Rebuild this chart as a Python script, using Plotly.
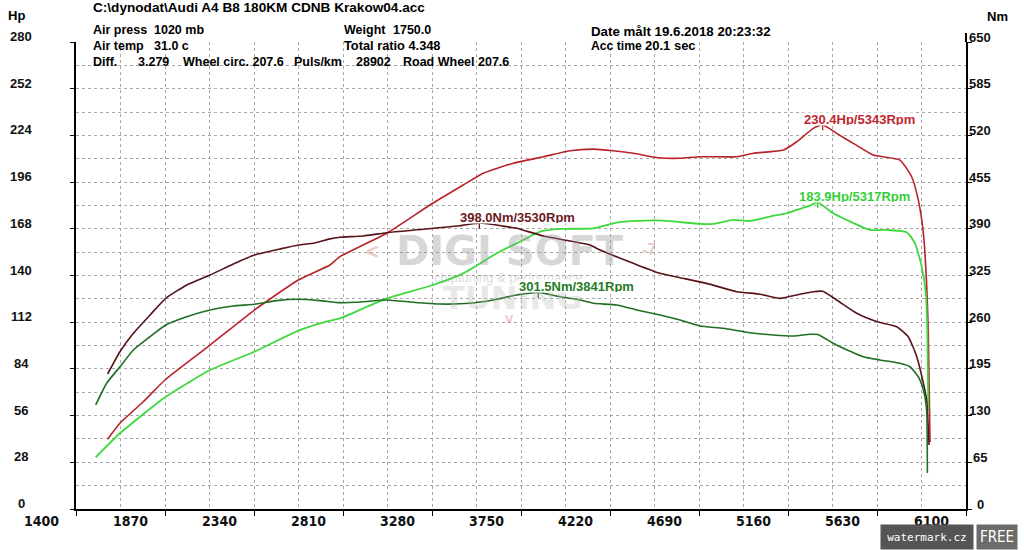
import plotly.graph_objects as go

# ---------------- data ----------------
hp_rpm = [1567, 1632, 1755, 1874, 2108, 2342, 2574, 2741, 2794, 3041, 3269, 3445, 3551, 3709, 3868,
          4009, 4132, 4237, 4343, 4475, 4590, 4695, 4889, 4977, 5136, 5206, 5294, 5343, 5417, 5505,
          5610, 5751, 5813, 5848, 5875, 5892, 5901, 5910]
hp_crank = [41.8, 51.4, 64.3, 77.8, 98.3, 119.3, 137.3, 146.3, 151.3, 165.3, 182.3, 194.3, 201.3, 207.3, 211.2,
            214.8, 215.8, 214.8, 213.3, 210.6, 210.3, 211.2, 211.2, 213.3, 215.2, 220.2, 228.2, 230.4, 225.2, 219.2,
            212.2, 209.2, 199.2, 185.3, 165.3, 135.3, 105.5, 40.0]

whp_rpm = [1504, 1632, 1874, 2108, 2342, 2574, 2741, 2794, 3041, 3269, 3445, 3622, 3762, 3850, 3956,
           4132, 4255, 4361, 4501, 4695, 4765, 4871, 4959, 5065, 5170, 5232, 5276, 5317, 5399, 5470,
           5593, 5681, 5787, 5831, 5866, 5888, 5896, 5901]
hp_wheel = [31.0, 45.4, 67.3, 83.3, 94.3, 106.9, 112.9, 114.3, 126.3, 133.7, 141.3, 153.3, 161.3, 166.3, 167.9,
            168.3, 171.7, 172.7, 172.9, 170.9, 170.9, 173.3, 172.7, 175.3, 177.9, 180.3, 181.9, 183.9, 177.3, 173.3,
            167.3, 167.3, 165.9, 159.3, 145.3, 129.3, 105.3, 59.0]

nm_rpm = [1567, 1632, 1703, 1791, 1874, 1985, 2108, 2231, 2342, 2477, 2574, 2653, 2741, 2794, 2917, 3041,
          3234, 3428, 3530, 3674, 3727, 3868, 4009, 4114, 4167, 4343, 4484, 4590, 4731, 4889, 5012, 5118,
          5206, 5294, 5343, 5417, 5523, 5628, 5734, 5795, 5840, 5875, 5892, 5905]
nm_crank = [187.9, 218.9, 244.5, 270.0, 293.2, 311.8, 325.7, 341.0, 353.5, 361.9, 367.5, 369.8, 376.0, 378.2, 380.0, 384.6,
            389.3, 394.3, 398.0, 393.0, 390.7, 380.0, 373.0, 367.5, 360.5, 342.0, 328.0, 322.0, 314.0, 302.5, 299.0, 293.2,
            297.9, 302.5, 303.0, 290.9, 272.4, 260.9, 253.7, 239.8, 212.0, 175.0, 151.7, 89.0]

wnm_rpm = [1504, 1562, 1632, 1703, 1791, 1874, 1985, 2108, 2231, 2342, 2460, 2574, 2689, 2794, 2882, 3041,
           3181, 3322, 3481, 3604, 3727, 3841, 3956, 4062, 4132, 4255, 4361, 4484, 4590, 4695, 4818, 4959,
           5083, 5188, 5276, 5317, 5399, 5435, 5558, 5646, 5751, 5804, 5848, 5875, 5892, 5896]
nm_wheel = [144.8, 175.0, 198.0, 221.3, 239.8, 256.1, 267.7, 277.0, 282.5, 284.9, 290.0, 291.9, 290.0, 287.2, 287.7, 290.9,
            287.7, 285.3, 286.3, 290.9, 297.9, 301.5, 295.5, 290.9, 286.3, 284.0, 277.0, 270.0, 263.0, 254.7, 251.5, 245.4,
            242.2, 240.8, 243.2, 242.9, 230.6, 225.9, 212.0, 207.4, 202.8, 198.0, 184.1, 165.6, 137.8, 50.0]

x_ticks = [1400, 1870, 2340, 2810, 3280, 3750, 4220, 4690, 5160, 5630, 6100]
hp_ticks = [0, 28, 56, 84, 112, 140, 168, 196, 224, 252, 280]
nm_ticks = [0, 65, 130, 195, 260, 325, 390, 455, 520, 585, 650]

# ---------------- style ----------------
C_RED, C_GREEN, C_MAROON, C_DGREEN = "#b8232b", "#3fd93f", "#571319", "#1f6e22"
FONT = "Liberation Sans, Arial, sans-serif"
NARROW = "Liberation Sans Narrow, DejaVu Sans Condensed, Liberation Sans, sans-serif"
GRID = "#a8a8a8"

L, R, T, B = 76, 58, 42, 41
W, H = 1024, 550
PW, PH = W - L - R, H - T - B


def px(X):
    return (X - L) / PW


def py(Y):
    return (H - B - Y) / PH


fig = go.Figure()
LINE = dict(shape="spline", smoothing=0.5)
fig.add_trace(go.Scatter(x=hp_rpm, y=hp_crank, mode="lines", line=dict(color=C_RED, width=1.6, **LINE), yaxis="y"))
fig.add_trace(go.Scatter(x=whp_rpm, y=hp_wheel, mode="lines", line=dict(color=C_GREEN, width=1.8, **LINE), yaxis="y"))
fig.add_trace(go.Scatter(x=nm_rpm, y=nm_crank, mode="lines", line=dict(color=C_MAROON, width=1.6, **LINE), yaxis="y2"))
fig.add_trace(go.Scatter(x=wnm_rpm, y=nm_wheel, mode="lines", line=dict(color=C_DGREEN, width=1.6, **LINE), yaxis="y2"))

minor_x = [(a + b) / 2 for a, b in zip(x_ticks[:-1], x_ticks[1:])]

fig.update_layout(
    width=W, height=H, margin=dict(l=L, r=R, t=T, b=B),
    plot_bgcolor="white", paper_bgcolor="white", showlegend=False,
    xaxis=dict(range=[x_ticks[0], x_ticks[-1]], tickmode="array", tickvals=x_ticks,
               showticklabels=False,
               ticks="outside", ticklen=5, tickwidth=1, tickcolor="black",
               showline=True, linecolor="black", linewidth=2,
               showgrid=True, gridcolor=GRID, griddash="3px,3px", gridwidth=1,
               minor=dict(tickmode="array", tickvals=minor_x, showgrid=True, gridcolor=GRID,
                          griddash="3px,3px", gridwidth=1, ticks=""),
               zeroline=False),
    yaxis=dict(range=[hp_ticks[0], hp_ticks[-1]], tickmode="array", tickvals=hp_ticks,
               showticklabels=False, ticks="outside", ticklen=4, tickcolor="black",
               showline=True, linecolor="black", linewidth=2,
               showgrid=True, gridcolor=GRID, griddash="3px,3px", gridwidth=1,
               minor=dict(dtick=(hp_ticks[1] - hp_ticks[0]) / 2, tick0=0, showgrid=True, gridcolor=GRID,
                          griddash="3px,3px", gridwidth=1, ticks=""),
               zeroline=False),
    yaxis2=dict(range=[nm_ticks[0], nm_ticks[-1]], overlaying="y", side="right",
                tickmode="array", tickvals=nm_ticks, showticklabels=False,
                ticks="outside", ticklen=4, tickcolor="black",
                showline=True, linecolor="black", linewidth=2, showgrid=False, zeroline=False),
)

# white header band hiding grid at the top of the plot
fig.add_shape(type="rect", xref="paper", yref="paper", x0=0.003, x1=1, y0=py(63), y1=1.0,
              fillcolor="white", line_width=0, layer="between")
fig.add_shape(type="rect", xref="paper", yref="paper", x0=px(91), x1=px(510), y0=py(69), y1=py(56),
              fillcolor="white", line_width=0, layer="between")
# right axis extends a little above the plot
fig.add_shape(type="line", xref="paper", yref="paper", x0=1, x1=1, y0=1, y1=py(33),
              line=dict(color="black", width=2))

ann = []


def text(X, Y, s, size=12.5, color="black", family=FONT, anchor="left", bold=True, **kw):
    ann.append(dict(xref="paper", yref="paper", x=px(X), y=py(Y), text=(f"<b>{s}</b>" if bold else s),
                    showarrow=False, xanchor=anchor, yanchor="middle",
                    font=dict(family=family, size=size, color=color), **kw))


# header
text(91, 7, "C:\\dynodat\\Audi A4 B8 180KM CDNB Krakow04.acc", size=13.6)
text(91, 30, "Air press")
text(152, 30, "1020 mb")
text(91, 46, "Air temp")
text(152, 46, "31.0 c")
text(91, 62, "Diff.")
text(136, 62, "3.279")
text(181, 62, "Wheel circ. 207.6")
text(292, 62, "Puls/km")
text(354, 62, "28902")
text(401, 62, "Road Wheel 207.6")
text(342, 30, "Weight")
text(391, 30, "1750.0")
text(342, 46, "Total ratio 4.348", size=12.8)
text(589, 31, "Date målt 19.6.2018 20:23:32", size=13.3)
text(589, 46, "Acc time", size=12.2)
text(643, 46, "20.1 sec", size=13)
text(17, 15, "Hp", size=13, anchor="center")
text(997, 16, "Nm", size=13, anchor="center")

# axis value labels
for v in hp_ticks:
    ann.append(dict(xref="paper", yref="y", x=0, xshift=-55, y=v, yshift=5.5, text=f"<b>{v}</b>",
                    showarrow=False, xanchor="center", yanchor="middle",
                    font=dict(family=FONT, size=13, color="#111")))
for v in nm_ticks:
    ann.append(dict(xref="paper", yref="y2", x=1, xshift=14, y=v, yshift=5, text=f"<b>{v}</b>",
                    showarrow=False, xanchor="center", yanchor="middle",
                    font=dict(family=FONT, size=13, color="#111")))
for v in x_ticks:
    ann.append(dict(xref="x", yref="paper", x=v, xshift=-35, y=0, yshift=-12, text=f"<b>{v}</b>",
                    showarrow=False, xanchor="center", yanchor="middle",
                    font=dict(family=NARROW, size=14, color="#111")))

# watermark logo (faint)
text(510, 251, "DIGI SOFT", size=40, color="rgba(150,150,150,0.40)", family="DejaVu Sans, sans-serif",
     anchor="center")
text(508, 277, "chiptuning &amp; performance", size=13, color="rgba(160,160,160,0.40)", anchor="center", bold=False)
text(513, 298, "TUNING", size=32, color="rgba(190,190,190,0.35)", family="DejaVu Sans, sans-serif", anchor="center")
text(372, 252, "&lt;", size=22, color="rgba(200,70,70,0.30)", anchor="center")
text(509, 317, "v", size=15, color="rgba(200,70,70,0.30)", anchor="center")
text(649, 249, "-7", size=16, color="rgba(200,70,70,0.30)", anchor="center")


# peak labels with a small tick mark at the peak
def peak(xs, ys, unit, color, yaxis):
    i = max(range(len(ys)), key=lambda k: ys[k])
    fig.add_trace(go.Scatter(x=[xs[i]], y=[ys[i]], mode="markers", yaxis=yaxis,
                             marker=dict(symbol="line-ns", size=8, line=dict(color=color, width=1.3))))
    ann.append(dict(xref="x", yref=yaxis, x=xs[i], y=ys[i], xshift=-20, yshift=6,
                    text=f"<b>{ys[i]:.1f}{unit}/{xs[i]:.0f}Rpm</b>", showarrow=False,
                    xanchor="left", yanchor="middle", bgcolor="white", borderpad=0, height=12,
                    font=dict(family=FONT, size=13, color=color)))


peak(hp_rpm, hp_crank, "Hp", "#c0262e", "y")
peak(whp_rpm, hp_wheel, "Hp", "#35cf35", "y")
peak(nm_rpm, nm_crank, "Nm", "#6a1a20", "y2")
peak(wnm_rpm, nm_wheel, "Nm", "#267a26", "y2")

# watermark.cz badge
text(927, 537, "watermark.cz", size=11, color="white", family="DejaVu Sans Mono, monospace", anchor="center",
     bold=False, bgcolor="#555555", width=90, height=22)
text(997, 537, "FREE", size=15, color="white", family=NARROW, anchor="center", bold=False,
     bgcolor="#6b6b6b", width=38, height=22)

fig.update_layout(annotations=ann)
fig.write_html("out.html")
